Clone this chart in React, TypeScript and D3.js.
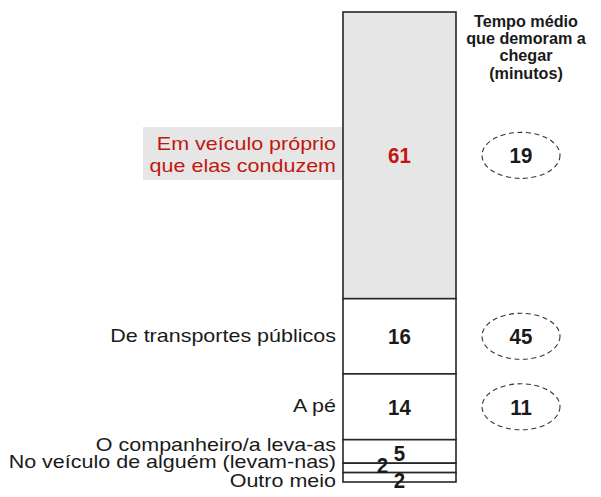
import React from "react";
import * as d3 from "d3";

const categories = [
  "Em veículo próprio|que elas conduzem",
  "De transportes públicos",
  "A pé",
  "O companheiro/a leva-as",
  "No veículo de alguém (levam-nas)",
  "Outro meio",
];
const shares = [61, 16, 14, 5, 2, 2];
const times: (number | null)[] = [19, 45, 11, null, null, null];
const headerLines = ["Tempo médio", "que demoram a", "chegar", "(minutos)"];

// layout tweaks (label nudges to avoid overlap)
const catDy = [0, 0, 0, -6, -5.5, 4.5];
const valDx = [0, 0, 0, 0, -17, 0];
const valDy = [0, 0, 0, 1.5, -3, 2.7];

const W = 601;
const H = 497;
const RED = "#c0170f";
const GRAY = "#e6e6e6";
const FONT = "Liberation Sans, Arial, Helvetica, sans-serif";

export default function App() {
  const y = d3.scaleLinear().domain([0, 100]).range([12, 482]);
  const x0 = 343;
  const x1 = 456;
  const xc = (x0 + x1) / 2;
  const ellX = 521;

  const cum: number[] = [];
  shares.reduce((acc, v) => {
    cum.push(acc);
    return acc + v;
  }, 0);

  return (
    <svg
      width={W}
      height={H}
      style={{ position: "absolute", left: 0, top: 0, background: "#fff" }}
      fontFamily={FONT}
    >
      {/* highlight box behind first label */}
      <rect x={143} y={127} width={x0 - 143} height={53} fill={GRAY} />
      {shares.map((v, i) => {
        const top = y(cum[i]);
        const bot = y(cum[i] + v);
        return (
          <rect
            key={"s" + i}
            x={x0}
            y={top}
            width={x1 - x0}
            height={bot - top}
            fill={i === 0 ? GRAY : "#fff"}
            stroke="#262626"
            strokeWidth={1.6}
          />
        );
      })}
      {shares.map((v, i) => {
        const c = y(cum[i] + v / 2);
        return (
          <text
            key={"v" + i}
            transform={`translate(${xc + valDx[i]},${c + 8 + valDy[i]}) scale(0.93,1)`}
            textAnchor="middle"
            fontWeight="bold"
            fontSize={22}
            fill={i === 0 ? RED : "#1a1a1a"}
          >
            {v}
          </text>
        );
      })}
      {categories.map((cat, i) => {
        const c = y(cum[i] + shares[i] / 2);
        const lines = cat.split("|");
        const lh = 21.5;
        const first = c + 5.5 - ((lines.length - 1) * lh) / 2 + catDy[i];
        return lines.map((ln, j) => (
          <text
            key={"c" + i + "_" + j}
            transform={`translate(336,${first + j * lh}) scale(1.12,1)`}
            textAnchor="end"
            fontSize={19.2}
            fill={i === 0 ? RED : "#1a1a1a"}
          >
            {ln}
          </text>
        ));
      })}
      {headerLines.map((ln, j) => (
        <text
          key={"h" + j}
          x={526}
          y={27 + j * 17.2}
          textAnchor="middle"
          fontWeight="bold"
          fontSize={16.2}
          fill="#1a1a1a"
        >
          {ln}
        </text>
      ))}
      {times.map((t, i) => {
        if (t === null) return null;
        const c = y(cum[i] + shares[i] / 2);
        return (
          <g key={"t" + i}>
            <ellipse
              cx={ellX}
              cy={c}
              rx={39}
              ry={23}
              fill="none"
              stroke="#333"
              strokeWidth={1.1}
              strokeDasharray="5,3.5"
            />
            <text
              transform={`translate(${ellX},${c + 8}) scale(0.93,1)`}
              textAnchor="middle"
              fontWeight="bold"
              fontSize={22}
              fill="#1a1a1a"
            >
              {t}
            </text>
          </g>
        );
      })}
    </svg>
  );
}
